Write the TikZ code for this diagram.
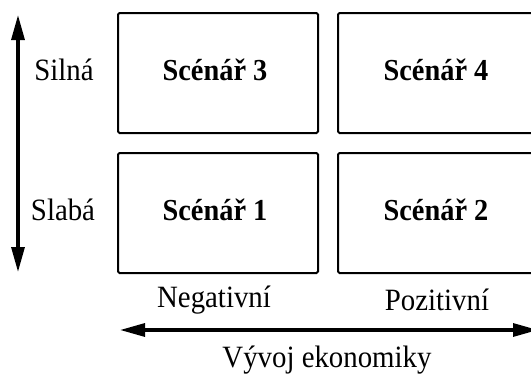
\documentclass[tikz,border=0pt]{standalone}
\usepackage{fontspec}
\setmainfont{Liberation Serif}[FakeStretch=0.93]
\usetikzlibrary{arrows.meta}
\begin{document}
\begin{tikzpicture}[x=1pt,y=-1pt,
  scenbox/.style={draw, line width=2pt, rounded corners=1.5pt},
  scenlabel/.style={font=\fontsize{30.5}{34}\selectfont\bfseries},
  axislabel/.style={font=\fontsize{31}{34}\selectfont},
  axisarrow/.style={line width=3.2pt, {Triangle[length=25pt,width=13pt]}-{Triangle[length=25pt,width=13pt]}}]
  \useasboundingbox (0,0) rectangle (531,383);
  \clip (0,0) rectangle (531,383);
  % quadrant boxes
  \draw[scenbox] (118,13) rectangle (318,133);
  \draw[scenbox] (338,13) rectangle (538,133);
  \draw[scenbox] (118,153) rectangle (318,273);
  \draw[scenbox] (338,153) rectangle (538,273);
  \node[scenlabel] (s3) at (215,70) {Scénář 3};
  \node[scenlabel] (s4) at (436,70) {Scénář 4};
  \node[scenlabel] (s1) at (215,210) {Scénář 1};
  \node[scenlabel] (s2) at (436,210) {Scénář 2};
  % vertical axis
  \coordinate (vtop) at (18,15);
  \coordinate (vbot) at (18,272);
  \draw[axisarrow] (vbot) -- (vtop);
  \node[axislabel] (silna) at (64,70) {Silná};
  \node[axislabel] (slaba) at (63,210) {Slabá};
  % horizontal axis
  \coordinate (hleft) at (120,330);
  \coordinate (hright) at (538,330);
  \draw[axisarrow] (hleft) -- (hright);
  \node[axislabel] (neg) at (214,300) {Negativní};
  \node[axislabel] (poz) at (437,300) {Pozitivní};
  \node[axislabel] (vyvoj) at (327,360) {Vývoj ekonomiky};
\end{tikzpicture}
\end{document}
